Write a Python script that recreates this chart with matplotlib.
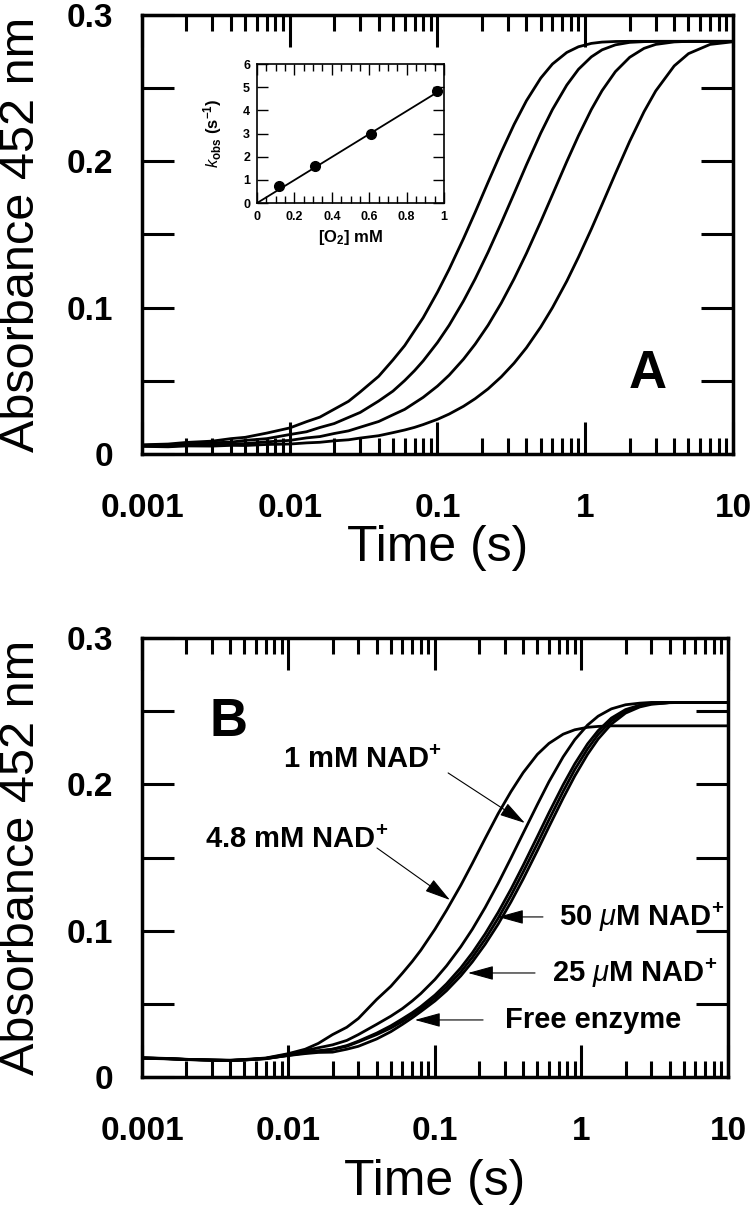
import matplotlib
matplotlib.use("Agg")
import matplotlib.pyplot as plt
from matplotlib.ticker import LogLocator, MultipleLocator, NullFormatter, FuncFormatter

plt.rcParams['font.family'] = ['Liberation Sans', 'DejaVu Sans']
plt.rcParams['mathtext.fontset'] = 'custom'
plt.rcParams['mathtext.rm'] = 'Liberation Sans'
plt.rcParams['mathtext.it'] = 'Liberation Sans:italic'
plt.rcParams['mathtext.bf'] = 'Liberation Sans:bold'

# -----------------------------
# Data
# -----------------------------
time_s = [0.001, 0.0015, 0.002, 0.003, 0.004, 0.005, 0.007,
          0.01, 0.013, 0.016, 0.02, 0.025, 0.03, 0.04, 0.05, 0.06, 0.07, 0.08,
          0.1, 0.12, 0.15, 0.18, 0.22, 0.27, 0.33, 0.4, 0.5, 0.6, 0.75, 0.9,
          1.1, 1.3, 1.6, 2, 2.5, 3, 4, 5, 7, 10]

# panel A, fastest -> slowest trace
abs_a1 = [0.0063, 0.0068, 0.0079, 0.0088, 0.0105, 0.0114, 0.0143,
          0.0178, 0.0221, 0.0252, 0.0306, 0.0360, 0.0424, 0.0531, 0.0643, 0.0741, 0.0843, 0.0931,
          0.1106, 0.1263, 0.1472, 0.1652, 0.1857, 0.2062, 0.2252, 0.2414, 0.2569, 0.2665, 0.2744, 0.2783,
          0.2806, 0.2815, 0.2819, 0.282, 0.282, 0.282, 0.282, 0.282, 0.282, 0.282]
abs_a2 = [0.0058, 0.0064, 0.0064, 0.0077, 0.0081, 0.0093, 0.0105,
          0.0133, 0.0152, 0.0181, 0.0208, 0.0250, 0.0284, 0.0362, 0.0430, 0.0502, 0.0570, 0.0636,
          0.0762, 0.0880, 0.1046, 0.1197, 0.1379, 0.1578, 0.1780, 0.1976, 0.2193, 0.2354, 0.2521, 0.2629,
          0.2714, 0.2762, 0.2796, 0.2813, 0.2818, 0.282, 0.282, 0.282, 0.282, 0.282]
abs_a3 = [0.0055, 0.0053, 0.0061, 0.0062, 0.0070, 0.0071, 0.0083,
          0.0093, 0.0110, 0.0119, 0.0140, 0.0158, 0.0183, 0.0222, 0.0268, 0.0305, 0.0349, 0.0387,
          0.0464, 0.0539, 0.0648, 0.0751, 0.0880, 0.1031, 0.1197, 0.1371, 0.1588, 0.1772, 0.1998, 0.2175,
          0.2354, 0.2483, 0.2613, 0.2711, 0.2772, 0.2799, 0.2816, 0.282, 0.282, 0.282]
abs_a4 = [0.0052, 0.0049, 0.0055, 0.0054, 0.0059, 0.0058, 0.0065,
          0.0068, 0.0076, 0.0080, 0.0090, 0.0097, 0.0109, 0.0125, 0.0146, 0.0164, 0.0182, 0.0201,
          0.0237, 0.0273, 0.0326, 0.0378, 0.0445, 0.0527, 0.0621, 0.0726, 0.0868, 0.1000, 0.1181, 0.1345,
          0.1537, 0.1705, 0.1916, 0.2137, 0.2339, 0.2481, 0.2652, 0.2736, 0.2799, 0.2817]

# inset: k_obs vs [O2]
o2_mM = [0.12, 0.31, 0.61, 0.96]
kobs = [0.72, 1.62, 2.98, 4.82]
fit_o2 = [0.0, 0.98]
fit_kobs = [0.0, 4.86]

# panel B traces
abs_b_48mM = [0.013, 0.0125, 0.012, 0.0115, 0.0115, 0.012, 0.013,
              0.016, 0.019, 0.023, 0.029, 0.034, 0.040, 0.053, 0.062, 0.071, 0.079, 0.0866,
              0.101, 0.114, 0.131, 0.146, 0.163, 0.180, 0.195, 0.208, 0.2205, 0.228, 0.2343, 0.2373,
              0.239, 0.2396, 0.240, 0.240, 0.240, 0.240, 0.240, 0.240, 0.240, 0.240]
abs_b_1mM = [0.0132, 0.0127, 0.0121, 0.0116, 0.0113, 0.0118, 0.0128,
             0.0155, 0.018, 0.020, 0.022, 0.025, 0.029, 0.036, 0.0416, 0.0468, 0.052, 0.057,
             0.0667, 0.076, 0.089, 0.101, 0.1158, 0.1323, 0.1496, 0.1666, 0.1862, 0.2018, 0.2188, 0.2305,
             0.2405, 0.2466, 0.2516, 0.2544, 0.2555, 0.256, 0.256, 0.256, 0.256, 0.256]
abs_b_50uM = [0.0128, 0.0124, 0.0119, 0.0114, 0.0112, 0.0117, 0.0126,
              0.0150, 0.0170, 0.0180, 0.019, 0.0215, 0.0245, 0.030, 0.035, 0.0398, 0.044, 0.0481,
              0.056, 0.0637, 0.0746, 0.0849, 0.0978, 0.1125, 0.1283, 0.1446, 0.1643, 0.1806, 0.1997, 0.214,
              0.2276, 0.2367, 0.2453, 0.2511, 0.2541, 0.2553, 0.2559, 0.256, 0.256, 0.256]
abs_b_25uM = [0.0130, 0.0126, 0.0120, 0.0117, 0.0114, 0.0116, 0.0125,
              0.0148, 0.0165, 0.0175, 0.019, 0.021, 0.024, 0.029, 0.0335, 0.038, 0.0425, 0.0464,
              0.0541, 0.0614, 0.0718, 0.0818, 0.0942, 0.1085, 0.124, 0.1401, 0.1595, 0.1758, 0.1952, 0.2101,
              0.2242, 0.2341, 0.2434, 0.25, 0.2537, 0.2551, 0.2559, 0.256, 0.256, 0.256]
abs_b_free = [0.0131, 0.0125, 0.0121, 0.0116, 0.0113, 0.0117, 0.0127,
              0.0147, 0.0160, 0.0168, 0.017, 0.019, 0.021, 0.026, 0.031, 0.036, 0.0405, 0.0447,
              0.052, 0.059, 0.0691, 0.0787, 0.0907, 0.1045, 0.1196, 0.1353, 0.1547, 0.171, 0.1906, 0.2057,
              0.2205, 0.231, 0.2412, 0.2487, 0.2529, 0.2547, 0.2558, 0.256, 0.256, 0.256]

time_ticks = [0.001, 0.01, 0.1, 1, 10]
time_labels = ["0.001", "0.01", "0.1", "1", "10"]


def fmt_abs(v, pos):
    v = round(v, 3)
    if abs(v * 10 - round(v * 10)) > 1e-6:
        return ""
    return "0" if v == 0 else f"{v:.1f}"


def style_main(ax):
    ax.set_xscale("log")
    ax.set_xlim(0.001, 10)
    ax.set_ylim(0, 0.3)
    ax.set_xticks(time_ticks, time_labels)
    ax.xaxis.set_minor_locator(LogLocator(base=10, subs=range(2, 10)))
    ax.xaxis.set_minor_formatter(NullFormatter())
    ax.yaxis.set_major_locator(MultipleLocator(0.05))
    ax.yaxis.set_major_formatter(FuncFormatter(fmt_abs))
    ax.tick_params(which="both", direction="in", top=True, right=True, width=2.2)
    ax.tick_params(which="major", length=23)
    ax.tick_params(which="minor", length=11.5)
    ax.tick_params(axis="x", which="major", pad=28)
    ax.tick_params(axis="y", which="major", pad=21)
    for lab in ax.get_xticklabels() + ax.get_yticklabels():
        lab.set_fontsize(24)
        lab.set_fontweight("bold")
    for sp in ax.spines.values():
        sp.set_linewidth(2.5)


fig = plt.figure(figsize=(7.5, 12.1), dpi=100)

# =========================================================
# Panel A
# =========================================================
ax_a = fig.add_axes([0.1893, 0.6248, 0.788, 0.3628])
for trace in [abs_a1, abs_a2, abs_a3, abs_a4]:
    ax_a.plot(time_s, trace, color="black", lw=2.0)
style_main(ax_a)
ax_a.text(2.66, 0.0547, "A", fontsize=38, fontweight="bold", ha="center", va="center")
ax_a.text(0.5, -0.214, "Time (s)", transform=ax_a.transAxes, fontsize=36, ha="center", va="center")
fig.text(22 / 750, 1 - 234.5 / 1210, "Absorbance 452 nm", rotation=90, fontsize=35,
         ha="center", va="center")

# inset
ax_in = fig.add_axes([0.3427, 0.8322, 0.2493, 0.1149])
ax_in.plot(fit_o2, fit_kobs, color="black", lw=1.3)
ax_in.plot(o2_mM, kobs, "o", color="black", ms=7)
ax_in.set_xlim(0, 1)
ax_in.set_ylim(0, 6)
ax_in.xaxis.set_major_locator(MultipleLocator(0.2))
ax_in.xaxis.set_minor_locator(MultipleLocator(0.05))
ax_in.yaxis.set_major_locator(MultipleLocator(1))
ax_in.xaxis.set_major_formatter(FuncFormatter(lambda v, p: "0" if v == 0 else ("1" if abs(v - 1) < 1e-6 else f"{v:.1f}")))
ax_in.tick_params(which="both", direction="in", top=True, right=True, width=1.0, labelsize=9)
ax_in.tick_params(which="major", length=8)
ax_in.tick_params(which="minor", length=5)
ax_in.tick_params(axis="y", pad=5)
ax_in.tick_params(axis="x", pad=6)
for lab in ax_in.get_xticklabels() + ax_in.get_yticklabels():
    lab.set_fontweight("bold")
for sp in ax_in.spines.values():
    sp.set_linewidth(1.2)
ax_in.set_xlabel(r"[O$_{\mathbf{2}}$] mM", fontsize=12, fontweight="bold", labelpad=3)
ax_in.set_ylabel(r"$\mathit{k}_{\mathbf{obs}}$ (s$^{\mathbf{-1}}$)", fontsize=12, fontweight="bold", labelpad=14)

# =========================================================
# Panel B
# =========================================================
ax_b = fig.add_axes([0.1893, 0.1099, 0.7813, 0.3628])
for trace in [abs_b_48mM, abs_b_1mM, abs_b_50uM, abs_b_25uM, abs_b_free]:
    ax_b.plot(time_s, trace, color="black", lw=2.0)
style_main(ax_b)
ax_b.text(0.00392, 0.2427, "B", fontsize=38, fontweight="bold", ha="center", va="center")
ax_b.text(0.5, -0.239, "Time (s)", transform=ax_b.transAxes, fontsize=36, ha="center", va="center")
fig.text(22 / 750, 1 - 857.5 / 1210, "Absorbance 452 nm", rotation=90, fontsize=35,
         ha="center", va="center")

labels_b = [
    (r"1 mM NAD$^{\mathbf{+}}$", (0.0318, 0.2167), (0.123, 0.2078), (0.411, 0.1736)),
    (r"4.8 mM NAD$^{\mathbf{+}}$", (0.0114, 0.162), (0.0402, 0.1565), (0.1265, 0.121)),
    (r"50 $\mu$M NAD$^{\mathbf{+}}$", (2.59, 0.1094), (0.546, 0.1094), (0.269, 0.1094)),
    (r"25 $\mu$M NAD$^{\mathbf{+}}$", (2.32, 0.0711), (0.482, 0.0711), (0.168, 0.0711)),
    ("Free enzyme", (1.2, 0.039), (0.213, 0.039), (0.0729, 0.039)),
]
for txt, pos, tail, tip in labels_b:
    ax_b.text(pos[0], pos[1], txt, fontsize=21, fontweight="bold", ha="center", va="center")
    ax_b.annotate("", xy=tip, xytext=tail,
                  arrowprops=dict(arrowstyle="-|>,head_length=0.8,head_width=0.22",
                                  color="black", lw=0.8, shrinkA=0, shrinkB=0,
                                  mutation_scale=20))

fig.savefig("out.png", dpi=100)
